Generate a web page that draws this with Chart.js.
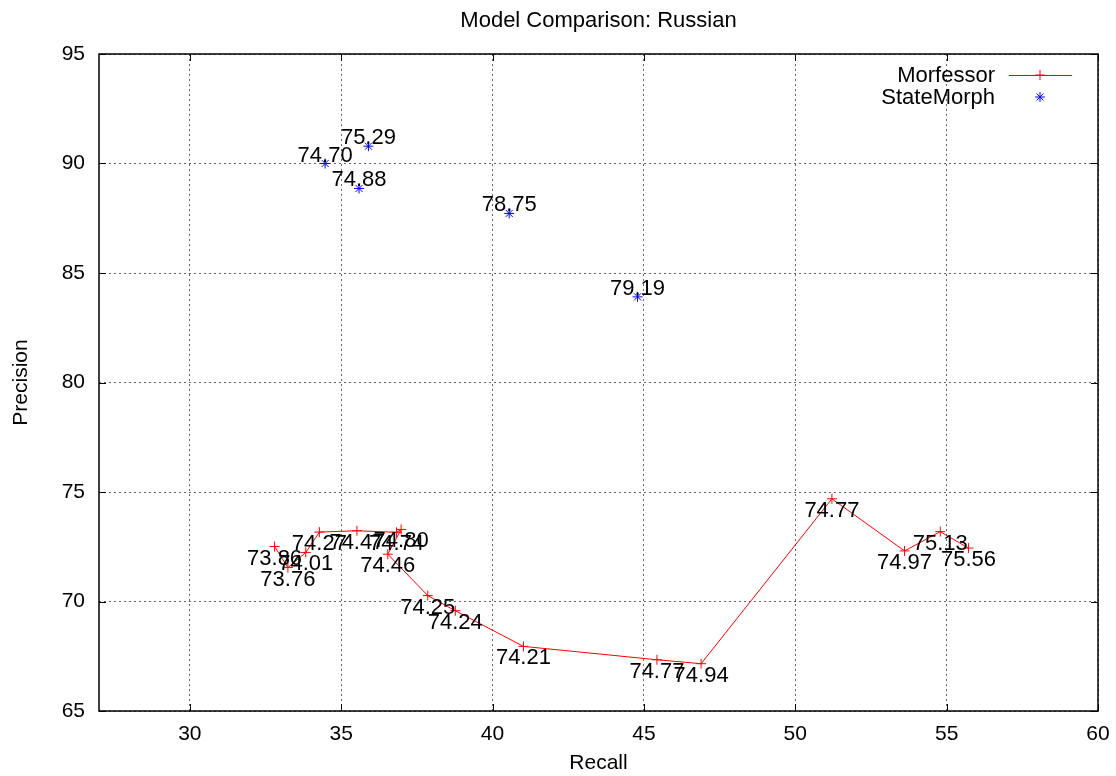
<!DOCTYPE html>
<html>
<head>
<meta charset="utf-8">
<title>Model Comparison: Russian</title>
<script src="https://cdn.jsdelivr.net/npm/chart.js@4/dist/chart.umd.min.js"></script>
<style>
  html, body { margin: 0; padding: 0; background: #fff; }
  #wrap { width: 1116px; height: 776px; }
</style>
</head>
<body>
<div id="wrap"><canvas id="chart" width="1116" height="776"></canvas></div>
<script>
'use strict';

// ── Data ─────────────────────────────────────────────────────────────────────

const morfRecall    = [32.80, 33.24, 33.83, 34.28, 35.52, 36.83, 36.98, 36.54, 37.86, 38.77, 41.02, 45.43, 46.89, 51.21, 53.61, 54.79, 55.72];
const morfPrecision = [72.51, 71.55, 72.24, 73.17, 73.23, 73.16, 73.29, 72.16, 70.27, 69.58, 67.95, 67.34, 67.16, 74.69, 72.31, 73.19, 72.44];
const morfLabels    = ['73.86', '73.76', '74.01', '74.27', '74.47', '74.74', '74.80', '74.46', '74.25', '74.24', '74.21', '74.77', '74.94', '74.77', '74.97', '75.13', '75.56'];

const smRecall    = [34.47, 35.90, 35.59, 40.55, 44.79];
const smPrecision = [90.00, 90.79, 88.86, 87.72, 83.91];
const smLabels    = ['74.70', '75.29', '74.88', '78.75', '79.19'];

const xTicks = [30, 35, 40, 45, 50, 55, 60];
const yTicks = [65, 70, 75, 80, 85, 90, 95];

const FONT = '"Liberation Sans", Arial, Helvetica, sans-serif';
const RED = '#ff0000';
const BLUE = '#0000ff';

function toPoints(xs, ys) {
  return xs.map((x, i) => ({ x, y: ys[i] }));
}

// ── Plugins ──────────────────────────────────────────────────────────────────

// plot frame + inward tick marks, gnuplot style
const frame = {
  id: 'frame',
  afterDatasetsDraw(chart) {
    const { ctx, chartArea: a, scales } = chart;
    ctx.save();
    ctx.strokeStyle = '#000';
    ctx.lineWidth = 1;
    ctx.beginPath();
    for (const v of xTicks) {
      const px = Math.round(scales.x.getPixelForValue(v)) + 0.5;
      ctx.moveTo(px, a.bottom); ctx.lineTo(px, a.bottom - 7);
      ctx.moveTo(px, a.top);    ctx.lineTo(px, a.top + 7);
    }
    for (const v of yTicks) {
      const py = Math.round(scales.y.getPixelForValue(v)) + 0.5;
      ctx.moveTo(a.left, py);  ctx.lineTo(a.left + 7, py);
      ctx.moveTo(a.right, py); ctx.lineTo(a.right - 7, py);
    }
    ctx.stroke();
    ctx.lineWidth = 1.5;
    ctx.strokeRect(a.left, a.top, a.right - a.left, a.bottom - a.top);
    ctx.restore();
  }
};

// value labels next to each point
const pointLabels = {
  id: 'pointLabels',
  afterDatasetsDraw(chart) {
    const ctx = chart.ctx;
    ctx.save();
    ctx.font = '22px ' + FONT;
    ctx.fillStyle = '#000';
    ctx.textAlign = 'center';
    ctx.textBaseline = 'alphabetic';
    chart.data.datasets.forEach((ds, i) => {
      const meta = chart.getDatasetMeta(i);
      const dy = ds.labelBelow ? 18 : -2;
      meta.data.forEach((pt, j) => {
        ctx.fillText(ds.pointText[j], pt.x, pt.y + dy);
      });
    });
    ctx.restore();
  }
};

// key in the top right corner: text first, sample after
const key = {
  id: 'key',
  afterDraw(chart) {
    const { ctx, chartArea: a } = chart;
    const textRight = a.right - 103;
    const sx = a.right - 58;
    const rows = [82, 104];
    ctx.save();
    ctx.font = '22px ' + FONT;
    ctx.textAlign = 'right';
    ctx.textBaseline = 'alphabetic';
    chart.data.datasets.forEach((ds, i) => {
      const by = rows[i];
      ctx.fillStyle = '#000';
      ctx.fillText(ds.label, textRight, by);
      const cy = by - 7;
      ctx.strokeStyle = ds.borderColor;
      ctx.fillStyle = ds.borderColor;
      ctx.lineWidth = 1;
      if (ds.showLine) {
        ctx.beginPath();
        ctx.moveTo(sx - 31, cy + 0.5);
        ctx.lineTo(sx + 32, cy + 0.5);
        ctx.stroke();
      }
      Chart.helpers.drawPoint(ctx, {
        pointStyle: ds.pointStyle,
        radius: ds.pointRadius,
        borderWidth: 1,
        rotation: 0
      }, sx, cy);
    });
    ctx.restore();
  }
};

// ── Chart ────────────────────────────────────────────────────────────────────

const ctx = document.getElementById('chart').getContext('2d');

new Chart(ctx, {
  type: 'scatter',
  data: {
    datasets: [{
      label: 'Morfessor',
      data: toPoints(morfRecall, morfPrecision),
      pointText: morfLabels,
      labelBelow: true,
      showLine: true,
      borderColor: RED,
      backgroundColor: RED,
      borderWidth: 1,
      pointStyle: 'cross',
      pointRadius: 5,
      pointBorderWidth: 1,
      tension: 0
    }, {
      label: 'StateMorph',
      data: toPoints(smRecall, smPrecision),
      pointText: smLabels,
      labelBelow: false,
      showLine: false,
      borderColor: BLUE,
      backgroundColor: BLUE,
      borderWidth: 1,
      pointStyle: 'star',
      pointRadius: 5,
      pointBorderWidth: 1
    }]
  },
  options: {
    responsive: false,
    animation: false,
    devicePixelRatio: 1,
    layout: { padding: { left: 0, right: 18, top: 0, bottom: 0 } },
    plugins: {
      legend: { display: false },
      tooltip: { enabled: false },
      title: {
        display: true,
        fullSize: false,
        text: 'Model Comparison: Russian',
        color: '#000',
        font: { family: FONT, size: 22, weight: 'normal' },
        padding: { top: 8, bottom: 19.6 }
      }
    },
    scales: {
      x: {
        type: 'linear',
        min: 27,
        max: 60,
        afterBuildTicks: s => { s.ticks = xTicks.map(v => ({ value: v })); },
        afterFit: s => { s.height = 65; s.paddingLeft = 0; s.paddingRight = 0; },
        grid: { color: 'rgba(0,0,0,0.6)', lineWidth: 1, drawTicks: false },
        border: { display: false, dash: [2, 3] },
        ticks: { color: '#000', font: { family: FONT, size: 21 }, padding: 11, maxRotation: 0 },
        title: { display: true, text: 'Recall', color: '#000', font: { family: FONT, size: 21 }, padding: { top: 0, bottom: 0 } }
      },
      y: {
        type: 'linear',
        min: 65,
        max: 95,
        afterBuildTicks: s => { s.ticks = yTicks.map(v => ({ value: v })); },
        afterFit: s => { s.width = 99; s.paddingTop = 0; s.paddingBottom = 0; },
        grid: { color: 'rgba(0,0,0,0.6)', lineWidth: 1, drawTicks: false },
        border: { display: false, dash: [2, 3] },
        ticks: { color: '#000', font: { family: FONT, size: 21 }, padding: 14 },
        title: { display: true, text: 'Precision', color: '#000', font: { family: FONT, size: 21 }, padding: { top: 9, bottom: 0 } }
      }
    }
  },
  plugins: [frame, pointLabels, key]
});
</script>
</body>
</html>
